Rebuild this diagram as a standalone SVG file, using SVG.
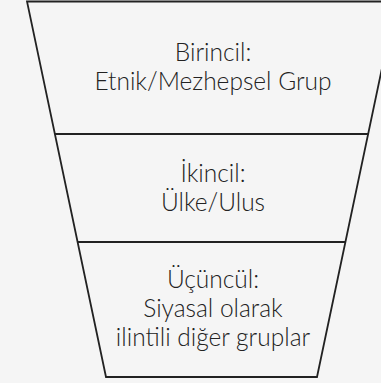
<svg xmlns="http://www.w3.org/2000/svg" width="381" height="383" viewBox="0 0 381 383">
<style>
.bg{fill:#f5f5f5}
.shape{fill:none;stroke:#222;stroke-width:1.8;stroke-linejoin:miter}
.div{stroke:#222;stroke-width:1.8}
.t{font-family:Lato,"Open Sans","Liberation Sans",sans-serif;font-weight:300;font-size:24.5px;fill:#222;text-anchor:middle}
</style>
<rect class="bg" x="0" y="0" width="381" height="383"/>
<g id="funnel">
<polygon class="shape" points="27,1.5 396,1.5 317,377 106,377"/>
</g>
<g id="connectors">
<line class="div" x1="54.9" y1="134" x2="368.1" y2="134"/>
<line class="div" x1="77.6" y1="242" x2="345.4" y2="242"/>
</g>
<g id="primary">
<text class="t" x="213" y="61">Birincil:</text>
<text class="t" x="213" y="89.5">Etnik/Mezhepsel Grup</text>
</g>
<g id="secondary">
<text class="t" x="213" y="182">İkincil:</text>
<text class="t" x="213" y="210.5">Ülke/Ulus</text>
</g>
<g id="tertiary">
<text class="t" x="213" y="288">Üçüncül:</text>
<text class="t" x="213" y="317">Siyasal olarak</text>
<text class="t" x="213" y="345.5">ilintili diğer gruplar</text>
</g>
</svg>
